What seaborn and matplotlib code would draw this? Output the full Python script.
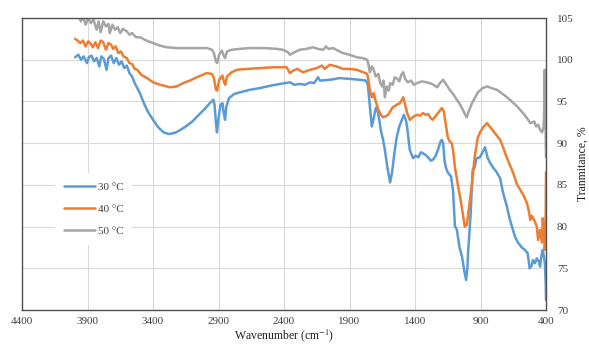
import matplotlib
matplotlib.use('Agg')
import matplotlib.pyplot as plt
import pandas as pd
import seaborn as sns

SERIES = ['30 °C', '40 °C', '50 °C']
COLORS = ['#5B9BD5', '#ED7D31', '#A5A5A5']

WN_30 = [3995, 3970, 3950, 3930, 3905, 3890, 3870, 3850, 3830, 3810, 3795, 3775, 3755, 3740, 3720,
         3700, 3680, 3660, 3640, 3620, 3600, 3580, 3560, 3540, 3520, 3500, 3470, 3440, 3400, 3360,
         3320, 3280, 3240, 3200, 3150, 3100, 3050, 3000, 2960, 2940, 2930, 2920, 2912, 2900, 2885,
         2870, 2860, 2850, 2840, 2820, 2780, 2735, 2660, 2585, 2500, 2430, 2355, 2320, 2280, 2240,
         2200, 2170, 2140, 2125, 2050, 1975, 1900, 1820, 1775, 1760, 1745, 1730, 1715, 1700, 1690,
         1675, 1660, 1645, 1630, 1610, 1590, 1575, 1560, 1540, 1520, 1500, 1485, 1470, 1460, 1450,
         1440, 1415, 1395, 1375, 1355, 1340, 1320, 1300, 1280, 1265, 1245, 1225, 1205, 1195, 1185,
         1175, 1165, 1150, 1125, 1110, 1100, 1095, 1085, 1080, 1070, 1060, 1040, 1025, 1010, 1000,
         995, 975, 960, 945, 930, 905, 885, 865, 845, 825, 805, 780, 750, 730, 700,
         675, 635, 610, 585, 560, 540, 525, 510, 500, 485, 470, 455, 445, 435, 425,
         415, 408, 402, 400]
T_30 = [100.3, 100.6, 100.0, 100.4, 99.6, 100.3, 100.5, 99.8, 100.2, 99.2, 100.4, 100.1, 98.8, 100.2, 100.5,
        99.6, 100.2, 99.4, 99.8, 99.0, 99.3, 98.4, 98.0, 97.2, 96.6, 96.0, 94.8, 93.8, 92.8, 91.9,
        91.3, 91.1, 91.2, 91.5, 92.0, 92.6, 93.4, 94.2, 94.9, 95.2, 94.6, 92.5, 91.3, 93.0, 94.6,
        94.8, 93.6, 92.8, 94.4, 95.4, 95.9, 96.1, 96.4, 96.6, 96.9, 97.1, 97.3, 97.0, 97.1, 97.0,
        97.3, 97.2, 97.9, 97.5, 97.6, 97.8, 97.7, 97.6, 97.5, 97.0, 94.5, 92.0, 93.0, 94.2, 94.3,
        93.0, 91.5, 90.5, 89.2, 87.0, 85.3, 86.5, 88.5, 90.7, 92.0, 92.8, 93.4, 92.8, 91.9, 90.5,
        89.2, 88.2, 88.5, 88.3, 88.9, 88.8, 88.6, 88.3, 87.9, 88.0, 88.4, 89.2, 90.2, 90.4, 90.0,
        88.0, 87.1, 86.5, 86.0, 84.4, 81.5, 80.0, 79.8, 79.6, 78.5, 77.5, 76.3, 74.8, 73.6, 75.0,
        76.8, 81.6, 86.8, 87.1, 88.2, 88.3, 88.9, 89.5, 88.2, 87.6, 87.1, 86.6, 85.8, 84.2, 82.5,
        80.8, 78.7, 78.0, 77.5, 77.2, 76.8, 75.0, 75.3, 76.0, 75.6, 76.2, 75.8, 75.2, 76.5, 77.2,
        76.3, 75.5, 73.0, 71.2]

WN_40 = [3995, 3975, 3955, 3935, 3915, 3895, 3875, 3860, 3840, 3820, 3800, 3780, 3760, 3740, 3720,
         3705, 3685, 3665, 3645, 3625, 3600, 3580, 3560, 3540, 3520, 3490, 3445, 3400, 3345, 3270,
         3220, 3170, 3120, 3065, 2990, 2950, 2935, 2920, 2910, 2895, 2870, 2855, 2848, 2835, 2800,
         2760, 2680, 2585, 2480, 2380, 2355, 2330, 2300, 2255, 2200, 2150, 2110, 2090, 2050, 2000,
         1950, 1900, 1845, 1795, 1765, 1755, 1745, 1730, 1715, 1700, 1680, 1660, 1645, 1625, 1605,
         1590, 1570, 1540, 1515, 1500, 1490, 1475, 1460, 1440, 1410, 1385, 1360, 1340, 1320, 1300,
         1280, 1265, 1245, 1225, 1195, 1180, 1170, 1150, 1135, 1120, 1108, 1095, 1075, 1055, 1040,
         1020, 1005, 990, 965, 945, 920, 900, 880, 850, 830, 810, 780, 750, 725, 700,
         650, 620, 600, 570, 545, 530, 520, 510, 500, 485, 470, 460, 445, 430, 425,
         415, 410, 405, 402, 400]
T_40 = [102.5, 102.3, 102.0, 102.3, 101.6, 102.2, 101.9, 101.5, 102.1, 101.4, 102.3, 102.1, 101.2, 102.0, 101.8,
        101.3, 101.6, 100.8, 101.0, 100.4, 100.2, 99.6, 99.5, 98.9, 98.8, 98.2, 97.8, 97.3, 97.0, 96.7,
        96.8, 97.2, 97.5, 97.9, 98.4, 98.3, 97.8, 96.4, 96.3, 97.6, 98.1, 97.2, 97.0, 98.0, 98.5,
        98.8, 98.9, 99.0, 99.1, 99.1, 98.4, 98.7, 98.9, 98.5, 98.8, 99.0, 99.3, 98.9, 99.4, 99.2,
        98.9, 98.9, 98.8, 98.5, 98.3, 97.5, 96.4, 95.5, 96.0, 95.0, 94.0, 93.4, 93.1, 93.2, 93.4,
        93.8, 94.3, 94.6, 94.8, 95.2, 95.5, 94.6, 93.6, 92.8, 93.2, 93.4, 93.3, 93.6, 93.4, 93.5,
        93.0, 92.8, 93.2, 93.6, 94.2, 93.8, 92.8, 90.7, 90.2, 90.0, 89.0, 87.1, 85.2, 83.5, 82.0,
        80.0, 80.2, 82.0, 85.2, 88.3, 90.7, 91.4, 91.9, 92.4, 92.0, 91.6, 91.0, 90.4, 89.4, 88.3,
        86.4, 85.0, 84.5, 83.7, 82.8, 81.8, 80.8, 81.3, 81.1, 80.6, 80.0, 78.4, 79.6, 78.1, 81.0,
        79.5, 77.2, 78.0, 82.0, 86.5]

WN_50 = [3995, 3970, 3950, 3935, 3915, 3895, 3875, 3855, 3830, 3815, 3800, 3780, 3760, 3740, 3730,
         3710, 3690, 3670, 3650, 3630, 3600, 3580, 3560, 3530, 3500, 3450, 3400, 3350, 3295, 3220,
         3140, 3060, 2990, 2950, 2935, 2920, 2910, 2895, 2875, 2858, 2850, 2835, 2800, 2740, 2660,
         2550, 2450, 2410, 2370, 2355, 2320, 2280, 2230, 2180, 2140, 2100, 2080, 2060, 2025, 1990,
         1950, 1900, 1845, 1800, 1765, 1755, 1745, 1730, 1720, 1700, 1680, 1665, 1650, 1640, 1630,
         1615, 1600, 1590, 1570, 1555, 1540, 1520, 1505, 1490, 1475, 1455, 1430, 1410, 1385, 1350,
         1310, 1270, 1230, 1210, 1185, 1160, 1135, 1110, 1080, 1055, 1035, 1020, 1005, 990, 965,
         940, 920, 885, 850, 815, 775, 730, 675, 620, 575, 540, 520, 490, 475, 460,
         445, 430, 420, 415, 410, 405, 400]
T_50 = [105.8, 105.2, 104.6, 105.3, 104.2, 105.0, 104.4, 104.8, 103.6, 104.6, 103.3, 104.6, 104.0, 104.3, 103.2,
        104.2, 103.6, 103.9, 103.2, 103.7, 103.4, 103.0, 103.2, 102.7, 102.7, 102.3, 102.0, 101.7, 101.5, 101.4,
        101.4, 101.4, 101.4, 101.2, 100.8, 99.8, 99.6, 100.6, 101.1, 100.4, 100.2, 101.0, 101.2, 101.3, 101.4,
        101.4, 101.3, 101.2, 100.9, 100.6, 100.9, 101.2, 101.3, 101.5, 101.3, 101.2, 101.6, 101.3, 101.4, 101.1,
        100.8, 100.6, 100.3, 100.2, 100.0, 99.4, 98.5, 99.2, 99.0, 98.0, 98.3, 97.2, 96.8, 97.5, 95.5,
        96.8, 96.3, 97.2, 97.0, 97.9, 97.8, 97.4, 98.2, 98.5, 97.7, 97.3, 97.5, 97.0, 97.2, 97.4,
        97.3, 97.1, 96.7, 97.2, 97.6, 97.0, 96.4, 95.9, 95.2, 94.6, 94.0, 93.5, 93.1, 93.8, 94.8,
        95.5, 96.1, 96.6, 96.8, 96.6, 96.4, 95.9, 95.2, 94.4, 93.6, 92.9, 92.4, 92.6, 92.0, 92.2,
        91.6, 91.3, 91.8, 93.1, 98.8, 94.0, 88.3]

X_TICKS = [4400, 3900, 3400, 2900, 2400, 1900, 1400, 900, 400]
Y_TICKS = [70, 75, 80, 85, 90, 95, 100, 105]

frames = []
for name, wn, t in zip(SERIES, [WN_30, WN_40, WN_50], [T_30, T_40, T_50]):
    frames.append(pd.DataFrame({'wn': wn, 'T': t, 'series': name}))
df = pd.concat(frames, ignore_index=True)

sns.set_style('white')
plt.rcParams['font.family'] = ['Liberation Serif', 'DejaVu Serif']
plt.rcParams['mathtext.fontset'] = 'stix'

fig = plt.figure(figsize=(5.89, 3.47), dpi=100)
ax = fig.add_axes([0.0374, 0.1066, 0.8896, 0.8414])

sns.lineplot(data=df, x='wn', y='T', hue='series', hue_order=SERIES,
             palette=COLORS, linewidth=1.8, estimator=None, sort=False, ax=ax)

ax.set_xlim(4400, 400)
ax.set_ylim(70, 105)
ax.set_xticks(X_TICKS)
ax.set_yticks(Y_TICKS)
ax.grid(True, color='#d9d9d9', linewidth=0.8)
ax.set_axisbelow(True)
for s in ax.spines.values():
    s.set_color('#505050')
    s.set_linewidth(1.0)

ax.yaxis.tick_right()
ax.yaxis.set_label_position('right')
ax.tick_params(axis='both', length=0, labelsize=8, colors='#404040')
ax.tick_params(axis='y', pad=8)
ax.tick_params(axis='x', pad=5)

ax.set_xlabel('Wavenumber (cm$^{-1}$)', fontsize=8.5, color='#202020', labelpad=1)
ax.set_ylabel('Tranmitance, %', fontsize=8.5, color='#202020', labelpad=2)

leg = ax.legend(loc='center', bbox_to_anchor=(0.137, 0.346), frameon=True,
                fontsize=8, handlelength=2.8, handletextpad=0.2,
                labelspacing=1.1, borderpad=0.8)
leg.get_frame().set_facecolor('white')
leg.get_frame().set_edgecolor('none')
leg.get_frame().set_alpha(1.0)
for t in leg.get_texts():
    t.set_color('#404040')

fig.savefig('out.png', dpi=100)
